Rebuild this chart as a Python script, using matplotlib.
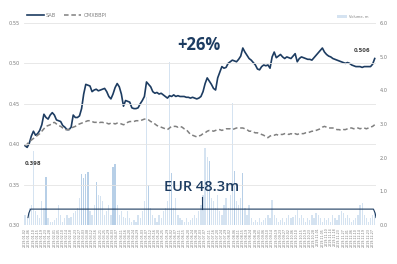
import matplotlib
matplotlib.use("Agg")
import matplotlib.pyplot as plt
import numpy as np
import pandas as pd

# ---------------- data ----------------
dates = pd.date_range("2019-01-02", "2019-12-30", periods=168).strftime("%Y-%m-%d").tolist()

sab = [0.398, 0.396, 0.401, 0.410, 0.416, 0.411, 0.413, 0.417, 0.424, 0.437,
       0.433, 0.431, 0.436, 0.439, 0.436, 0.430, 0.429, 0.428, 0.423, 0.421,
       0.418, 0.418, 0.421, 0.436, 0.433, 0.433, 0.435, 0.444, 0.462, 0.474,
       0.473, 0.472, 0.465, 0.467, 0.468, 0.466, 0.467, 0.468, 0.469, 0.465,
       0.459, 0.456, 0.462, 0.470, 0.475, 0.471, 0.462, 0.447, 0.454, 0.453,
       0.452, 0.445, 0.444, 0.444, 0.445, 0.450, 0.454, 0.459, 0.477, 0.474,
       0.471, 0.465, 0.463, 0.464, 0.462, 0.463, 0.461, 0.459, 0.457, 0.460,
       0.459, 0.461, 0.459, 0.460, 0.459, 0.459, 0.459, 0.458, 0.458, 0.457,
       0.458, 0.457, 0.456, 0.457, 0.459, 0.465, 0.475, 0.482, 0.478, 0.474,
       0.469, 0.467, 0.482, 0.489, 0.496, 0.494, 0.495, 0.500, 0.502, 0.504,
       0.503, 0.502, 0.505, 0.509, 0.519, 0.514, 0.510, 0.506, 0.504, 0.501,
       0.498, 0.493, 0.492, 0.496, 0.498, 0.497, 0.498, 0.494, 0.508, 0.514,
       0.507, 0.509, 0.511, 0.508, 0.506, 0.508, 0.507, 0.506, 0.509, 0.512,
       0.502, 0.506, 0.508, 0.507, 0.506, 0.505, 0.505, 0.504, 0.507, 0.510,
       0.513, 0.516, 0.519, 0.514, 0.511, 0.509, 0.508, 0.506, 0.505, 0.504,
       0.503, 0.502, 0.501, 0.500, 0.501, 0.500, 0.498, 0.497, 0.496, 0.496,
       0.496, 0.495, 0.496, 0.496, 0.496, 0.496, 0.499, 0.506]

omx = [0.398, 0.400, 0.403, 0.405, 0.407, 0.409, 0.411, 0.413, 0.416, 0.419,
       0.422, 0.423, 0.424, 0.426, 0.427, 0.425, 0.423, 0.422, 0.420, 0.418,
       0.418, 0.418, 0.420, 0.421, 0.422, 0.424, 0.425, 0.426, 0.427, 0.428,
       0.429, 0.429, 0.428, 0.427, 0.427, 0.426, 0.427, 0.427, 0.426, 0.426,
       0.425, 0.426, 0.426, 0.425, 0.426, 0.426, 0.425, 0.424, 0.425, 0.427,
       0.428, 0.428, 0.428, 0.429, 0.429, 0.429, 0.430, 0.431, 0.431, 0.430,
       0.428, 0.427, 0.425, 0.423, 0.422, 0.421, 0.420, 0.419, 0.418, 0.420,
       0.422, 0.422, 0.422, 0.421, 0.422, 0.421, 0.419, 0.418, 0.415, 0.412,
       0.411, 0.410, 0.409, 0.410, 0.411, 0.413, 0.414, 0.416, 0.417, 0.417,
       0.416, 0.417, 0.418, 0.418, 0.417, 0.418, 0.419, 0.419, 0.419, 0.418,
       0.419, 0.420, 0.420, 0.420, 0.420, 0.419, 0.418, 0.416, 0.416, 0.415,
       0.414, 0.414, 0.413, 0.412, 0.411, 0.409, 0.408, 0.410, 0.411, 0.411,
       0.412, 0.411, 0.412, 0.412, 0.413, 0.413, 0.412, 0.413, 0.412, 0.413,
       0.412, 0.413, 0.413, 0.413, 0.414, 0.414, 0.415, 0.416, 0.416, 0.417,
       0.418, 0.419, 0.421, 0.422, 0.421, 0.420, 0.420, 0.420, 0.419, 0.418,
       0.418, 0.417, 0.418, 0.418, 0.419, 0.420, 0.420, 0.419, 0.420, 0.420,
       0.419, 0.420, 0.420, 0.419, 0.420, 0.421, 0.422, 0.424]

volume = [0.3, 0.2, 0.5, 0.6, 2.2, 0.4, 0.3, 0.2, 0.7, 0.5,
          1.43, 0.2, 0.1, 0.1, 0.15, 0.2, 0.6, 0.3, 0.1, 0.2,
          0.3, 0.2, 0.25, 0.35, 0.4, 0.5, 0.8, 1.5, 1.4, 1.5,
          1.58, 0.4, 0.3, 0.6, 1.29, 0.9, 0.85, 0.7, 0.3, 0.4,
          0.6, 0.3, 1.73, 1.8, 0.6, 0.3, 0.4, 0.25, 0.2, 0.4,
          0.2, 0.1, 0.15, 0.1, 0.3, 0.2, 0.4, 0.7, 3.8, 1.2,
          0.5, 0.3, 0.2, 0.1, 0.3, 0.2, 0.4, 0.5, 0.7, 4.84,
          1.54, 0.5, 0.8, 0.3, 0.2, 0.15, 0.1, 0.2, 0.1, 0.15,
          0.2, 0.3, 0.2, 0.4, 0.6, 0.9, 2.3, 2.03, 1.9, 0.8,
          0.7, 0.5, 0.9, 0.4, 0.3, 0.6, 0.8, 0.5, 0.9, 3.62,
          1.6, 0.7, 0.6, 0.8, 1.54, 0.5, 0.3, 0.6, 0.2, 0.1,
          0.15, 0.1, 0.2, 0.1, 0.15, 0.2, 0.3, 0.2, 0.74, 0.3,
          0.2, 0.1, 0.15, 0.2, 0.1, 0.2, 0.3, 0.2, 0.25, 0.3,
          0.44, 0.2, 0.3, 0.2, 0.1, 0.2, 0.15, 0.3, 0.2, 0.35,
          0.3, 0.2, 0.1, 0.2, 0.15, 0.2, 0.1, 0.3, 0.2, 0.15,
          0.3, 0.4, 0.35, 0.2, 0.3, 0.2, 0.1, 0.15, 0.2, 0.3,
          0.6, 0.64, 0.3, 0.2, 0.1, 0.2, 0.3, 0.4]

price_ticks = [0.30, 0.35, 0.40, 0.45, 0.50, 0.55]
vol_ticks = [0.0, 1.0, 2.0, 3.0, 4.0, 5.0, 6.0]
change_label = "+26%"
turnover_label = "EUR 48.3m"

# ---------------- style ----------------
NAVY = "#1d3c61"
GREY = "#808080"
TICK = "#7a7a7a"
BAR = "#d5e3f1"
BAR_DARK = "#b7cfe7"

fig = plt.figure(figsize=(3.97, 2.64), dpi=100)
ax_vol = fig.add_axes([0.0605, 0.148, 0.886, 0.765])
ax = ax_vol.twinx()

x = np.arange(len(sab))
colors = [BAR_DARK if 1.0 < v < 2.0 else BAR for v in volume]
ax_vol.bar(x, volume, width=0.6, color=colors, linewidth=0, label="Volume, m")
ax_vol.set_ylim(0, 6)
ax_vol.set_yticks(vol_ticks)
ax_vol.set_yticklabels([f"{v:.1f}" for v in vol_ticks])
ax_vol.yaxis.tick_right()
ax_vol.set_xlim(-0.5, len(sab) - 0.5)

ax.plot(x, sab, color=NAVY, lw=1.2, label="SAB", solid_joinstyle="round")
ax.plot(x, omx, color=GREY, lw=1.1, ls=(0, (3, 1.8)), label="OMXBBPI")
ax.set_ylim(0.30, 0.55)
ax.set_yticks(price_ticks)
ax.set_yticklabels([f"{v:.2f}" for v in price_ticks])
ax.yaxis.tick_left()
ax.grid(axis="y", color="#e4e4e4", lw=0.6)
ax.set_axisbelow(False)

for a in (ax, ax_vol):
    for s in a.spines.values():
        s.set_visible(False)
    a.tick_params(axis="y", length=0, labelsize=3.6, labelcolor=TICK, pad=3)

ax_vol.set_xticks(x[::2])
ax_vol.set_xticklabels(dates[::2], rotation=90, fontsize=2.3, color=TICK)
ax_vol.tick_params(axis="x", length=0, pad=2)

# value labels
ax.annotate(f"{sab[0]:.3f}", (x[0], sab[0]), xytext=(0, -13), textcoords="offset points",
            fontsize=3.8, color="#404040", ha="left", va="center", fontweight="bold")
ax.annotate(f"{sab[-1]:.3f}", (x[-1], sab[-1]), xytext=(-3, 6), textcoords="offset points",
            fontsize=3.8, color="#404040", ha="right", va="center", fontweight="bold")

# headline labels
fig.text(199 / 397, 1 - 45 / 264, change_label, fontsize=12, fontweight="bold",
         color=NAVY, ha="center", va="center", family="Open Sans")
fig.text(202 / 397, 1 - 187 / 264, turnover_label, fontsize=10.5, fontweight="semibold",
         color=NAVY, ha="center", va="center", family="Open Sans")

# bracket
by, bdrop, btick = 0.47, 0.22, 0.84
x0, x1 = x[0] + 1.4, x[-1] + 0.6
xm = (x0 + x1) / 2
ax_vol.plot([x0, x0 + 0.4, x0 + 1.2, x1 - 1.2, x1 - 0.4, x1],
            [bdrop, by - 0.12, by, by, by - 0.12, bdrop], color=NAVY, lw=0.8)
ax_vol.plot([xm, xm], [by, btick], color=NAVY, lw=0.8)

# legends
leg = ax.legend(loc="lower left", bbox_to_anchor=(0.0, 1.01), ncol=2, frameon=False,
                fontsize=3.6, handlelength=3.4, handletextpad=0.4, columnspacing=1.6,
                borderaxespad=0.2, labelcolor=GREY)
leg2 = ax_vol.legend(loc="lower right", bbox_to_anchor=(0.985, 1.01), frameon=False,
                     fontsize=2.6, handlelength=3.0, handletextpad=0.4, labelcolor=GREY,
                     borderaxespad=0.2)

fig.savefig("out.png", dpi=100)
